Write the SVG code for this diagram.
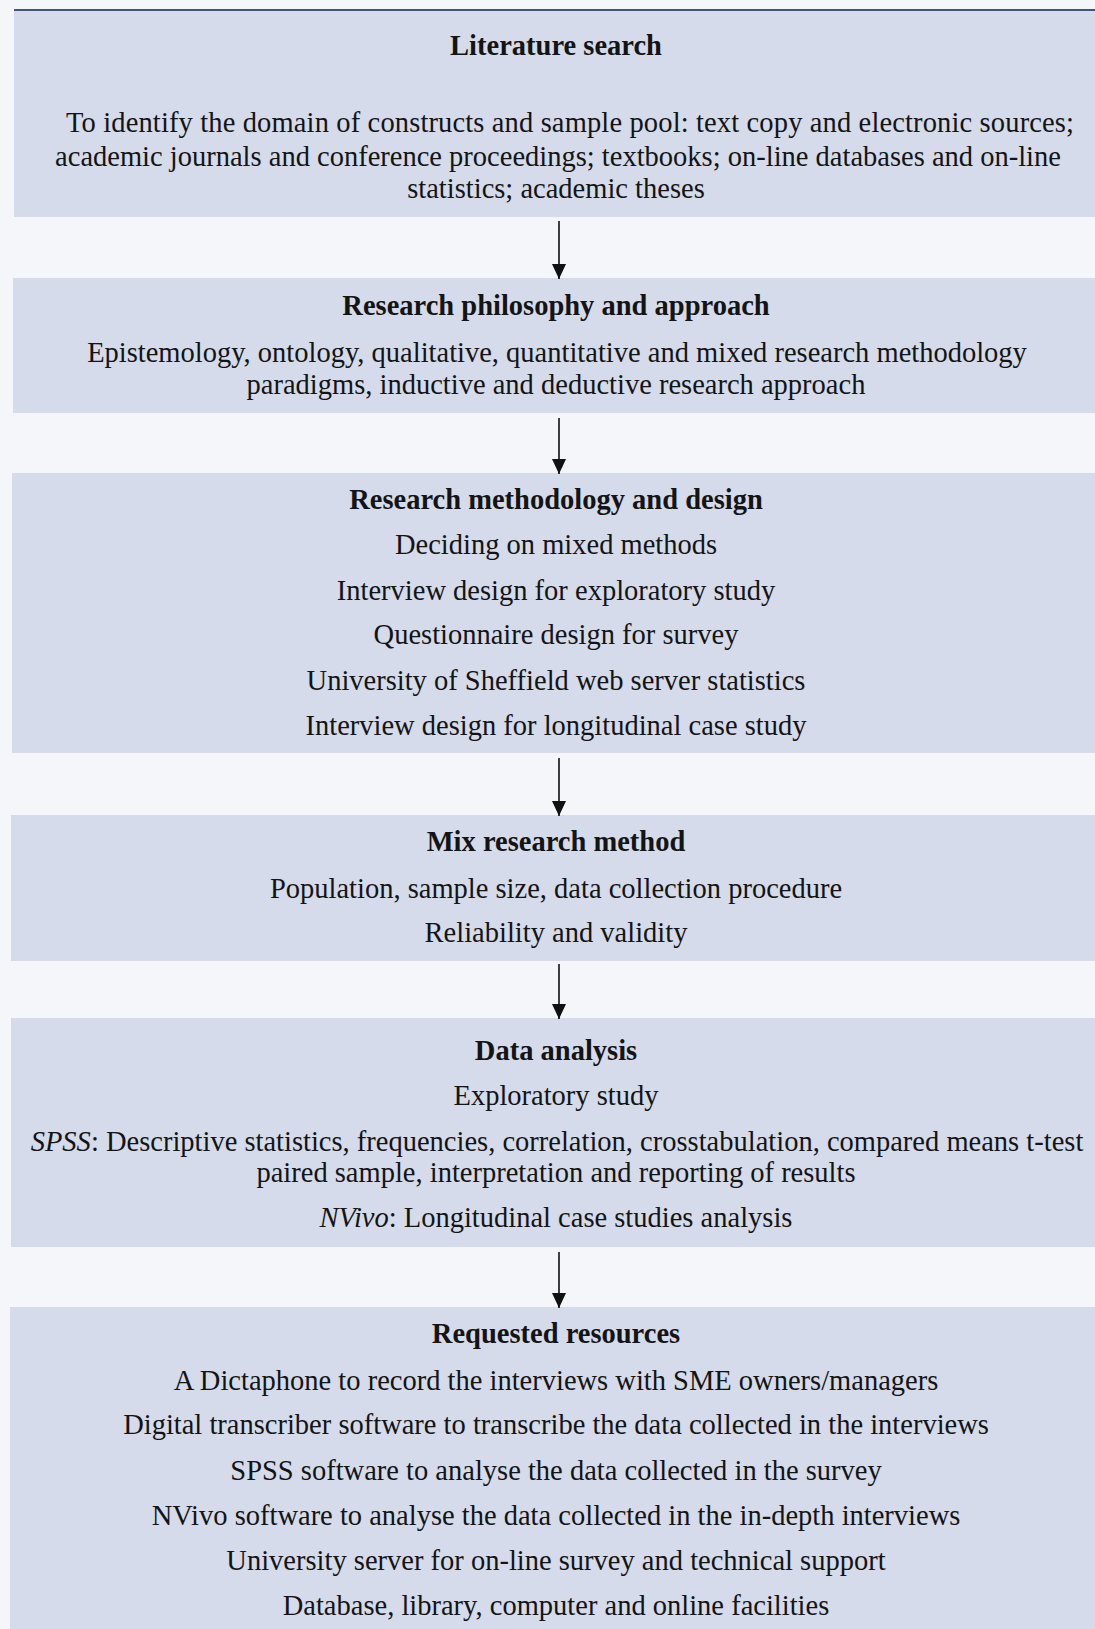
<svg xmlns="http://www.w3.org/2000/svg" width="1095" height="1629" viewBox="0 0 1095 1629">
  <style>
    .band { fill: #d5dbea; }
    .t { font-family: "Liberation Serif", "Times New Roman", serif; font-size: 28.5px; fill: #141414; text-anchor: middle; }
    .h { font-weight: bold; }
    .i { font-style: italic; }
    .flow { stroke: #111; stroke-width: 1.6; fill: none; marker-end: url(#head); }
  </style>
  <defs>
    <!-- arrowhead drawn along +x, rotated to follow each connector -->
    <marker id="head" viewBox="0 0 15 14" refX="15" refY="7" markerWidth="15" markerHeight="14" markerUnits="userSpaceOnUse" orient="auto">
      <path d="M0,0 L15,7 L0,14 Z" fill="#111"/>
    </marker>
  </defs>

  <!-- page -->
  <rect x="0" y="0" width="1095" height="1629" fill="#f5f6f9"/>
  <line x1="14" y1="10" x2="1095" y2="10" stroke="#44557c" stroke-width="2.2"/>

  <g id="literature-search">
    <rect class="band" x="14" y="11" width="1081" height="206"/>
    <text class="t h" x="556" y="55">Literature search</text>
    <text class="t" x="570" y="132" textLength="1008" lengthAdjust="spacing">To identify the domain of constructs and sample pool: text copy and electronic sources;</text>
    <text class="t" x="558" y="166">academic journals and conference proceedings; textbooks; on-line databases and on-line</text>
    <text class="t" x="556" y="198">statistics; academic theses</text>
  </g>

  <g id="research-philosophy">
    <rect class="band" x="13" y="278" width="1082" height="135"/>
    <text class="t h" x="556" y="315">Research philosophy and approach</text>
    <text class="t" x="557" y="362">Epistemology, ontology, qualitative, quantitative and mixed research methodology</text>
    <text class="t" x="556" y="394">paradigms, inductive and deductive research approach</text>
  </g>

  <g id="methodology-design">
    <rect class="band" x="12" y="473" width="1083" height="280"/>
    <text class="t h" x="556" y="509">Research methodology and design</text>
    <text class="t" x="556" y="554">Deciding on mixed methods</text>
    <text class="t" x="556" y="600">Interview design for exploratory study</text>
    <text class="t" x="556" y="644">Questionnaire design for survey</text>
    <text class="t" x="556" y="690">University of Sheffield web server statistics</text>
    <text class="t" x="556" y="735">Interview design for longitudinal case study</text>
  </g>

  <g id="mix-research-method">
    <rect class="band" x="11" y="815" width="1084" height="146"/>
    <text class="t h" x="556" y="851">Mix research method</text>
    <text class="t" x="556" y="898">Population, sample size, data collection procedure</text>
    <text class="t" x="556" y="942">Reliability and validity</text>
  </g>

  <g id="data-analysis">
    <rect class="band" x="11" y="1018" width="1084" height="229"/>
    <text class="t h" x="556" y="1060">Data analysis</text>
    <text class="t" x="556" y="1105">Exploratory study</text>
    <text class="t" x="557" y="1151"><tspan class="i">SPSS</tspan>: Descriptive statistics, frequencies, correlation, crosstabulation, compared means t-test</text>
    <text class="t" x="556" y="1182">paired sample, interpretation and reporting of results</text>
    <text class="t" x="556" y="1227"><tspan class="i">NVivo</tspan>: Longitudinal case studies analysis</text>
  </g>

  <g id="requested-resources">
    <rect class="band" x="10" y="1307" width="1085" height="322"/>
    <text class="t h" x="556" y="1343">Requested resources</text>
    <text class="t" x="556" y="1390">A Dictaphone to record the interviews with SME owners/managers</text>
    <text class="t" x="556" y="1434">Digital transcriber software to transcribe the data collected in the interviews</text>
    <text class="t" x="556" y="1480">SPSS software to analyse the data collected in the survey</text>
    <text class="t" x="556" y="1525">NVivo software to analyse the data collected in the in-depth interviews</text>
    <text class="t" x="556" y="1570">University server for on-line survey and technical support</text>
    <text class="t" x="556" y="1615">Database, library, computer and online facilities</text>
  </g>

  <g id="connectors">
    <line class="flow" x1="559" y1="221" x2="559" y2="279"/>
    <line class="flow" x1="559" y1="418" x2="559" y2="474"/>
    <line class="flow" x1="559" y1="758" x2="559" y2="816"/>
    <line class="flow" x1="559" y1="964" x2="559" y2="1019"/>
    <line class="flow" x1="559" y1="1252" x2="559" y2="1308"/>
  </g>
</svg>
